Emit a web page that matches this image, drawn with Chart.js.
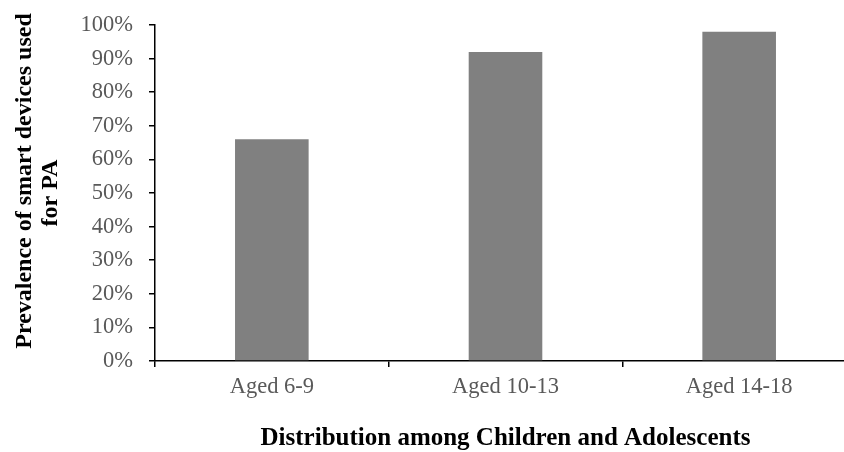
<!DOCTYPE html>
<html>
<head>
<meta charset="utf-8">
<script src="https://cdn.jsdelivr.net/npm/chart.js@4"></script>
<style>
  html, body { margin: 0; padding: 0; background: #fff; overflow: hidden; }
  #wrap { width: 856px; height: 452px; }
</style>
</head>
<body>
<div id="wrap"><canvas id="chart"></canvas></div>
<script>
const categories = ['Aged 6-9', 'Aged 10-13', 'Aged 14-18'];
const prevalence = [66, 92, 98]; // percent
// leading spaces nudge the first line upward like the original wrap
const yTitle = ['    Prevalence of smart devices used', 'for PA'];
const xTitle = 'Distribution among Children and Adolescents';

const serif = "'Liberation Serif', 'Times New Roman', serif";

const ctx = document.getElementById('chart').getContext('2d');

new Chart(ctx, {
  type: 'bar',
  data: {
    labels: categories,
    datasets: [{
      label: 'Prevalence',
      data: prevalence,
      backgroundColor: '#808080',
      borderWidth: 0,
      barPercentage: 1,
      categoryPercentage: 0.315
    }]
  },
  options: {
    responsive: true,
    maintainAspectRatio: false,
    animation: false,
    layout: { padding: { top: 25, right: 0, left: 0, bottom: 0 } },
    plugins: {
      legend: { display: false },
      tooltip: { enabled: false }
    },
    scales: {
      x: {
        border: { color: '#000', width: 1.5 },
        grid: { drawOnChartArea: false, tickLength: 6, color: '#000', lineWidth: 1.5 },
        ticks: {
          color: '#595959',
          padding: 7,
          font: { family: serif, size: 22.5 }
        },
        title: {
          display: true,
          text: xTitle,
          color: '#000',
          padding: { top: 0, bottom: 1 },
          font: { family: serif, size: 25, weight: 'bold', lineHeight: 1 }
        },
        afterFit: s => { s.height = 91; }
      },
      y: {
        min: 0,
        max: 100,
        border: { color: '#000', width: 1.5 },
        grid: { drawOnChartArea: false, tickLength: 6, color: '#000', lineWidth: 1.5 },
        ticks: {
          stepSize: 10,
          color: '#595959',
          padding: 16,
          font: { family: serif, size: 22.5 },
          callback: v => v + '%'
        },
        title: {
          display: true,
          text: yTitle,
          color: '#000',
          padding: { top: 12.5, bottom: 0 },
          font: { family: serif, size: 24, weight: 'bold', lineHeight: 1.05 }
        },
        afterFit: s => {
          s.width = 155;
          // plot top comes from layout padding only
          s.paddingTop = 0;
          s.paddingBottom = 0;
        }
      }
    }
  }
});
</script>
</body>
</html>
